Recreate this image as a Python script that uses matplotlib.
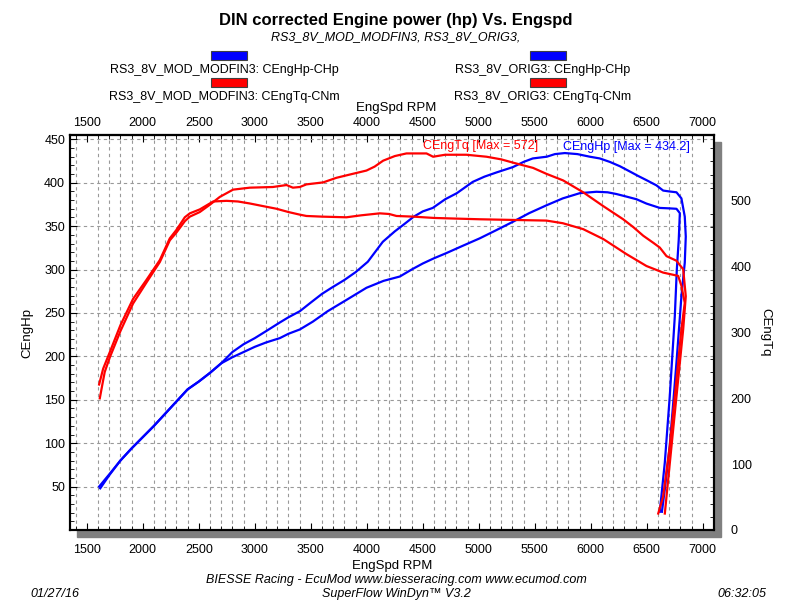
import numpy as np
import matplotlib
matplotlib.use("Agg")
import matplotlib.pyplot as plt
from matplotlib.patches import Rectangle
from matplotlib.ticker import MultipleLocator, NullLocator

plt.rcParams['font.family'] = ['Liberation Sans', 'DejaVu Sans']

# ----- data -----
# shared low-rpm part of both power runs
hp_low_rpm = [1620, 1700, 1800, 1900, 2000, 2100, 2200, 2300, 2400, 2500, 2600, 2700]
hp_low_val = [48, 63, 80, 94, 107, 120, 134, 148, 162, 171, 181, 192]

# RS3_8V_MOD_MODFIN3 power (hp)
mod_hp_rpm = hp_low_rpm + [2800, 2900, 3000, 3100, 3223, 3300, 3402, 3500, 3600, 3685, 3800,
                           3900, 4009, 4143, 4250, 4321, 4420, 4500, 4589, 4700, 4804, 4946,
                           5050, 5161, 5304, 5400, 5482, 5607, 5680, 5768, 5880, 5991, 6080,
                           6170, 6260, 6348, 6420, 6497, 6586, 6646, 6700, 6765, 6809, 6839,
                           6848, 6839, 6809, 6765, 6705, 6661, 6635]
mod_hp_val = hp_low_val + [205, 214, 221, 229, 239, 245, 252, 262, 272, 279, 288,
                           297, 309, 332, 344, 351, 361, 367, 371, 381, 388, 401,
                           407, 412, 418, 424, 428, 430, 433, 434.2, 433, 430, 428,
                           424, 419, 413, 408, 403, 397, 391, 390, 389, 382, 361,
                           338, 308, 269, 193, 97, 47, 21]

# RS3_8V_ORIG3 power (hp)
orig_hp_rpm = [1610, 1700] + hp_low_rpm[2:] + [2800, 2900, 3000, 3100, 3223, 3300, 3402, 3518, 3650,
                                              3818, 3997, 4150, 4295, 4400, 4500, 4600, 4711, 4850,
                                              5009, 5150, 5304, 5450, 5604, 5750, 5902, 6050, 6150,
                                              6229, 6320, 6408, 6497, 6616, 6700, 6765, 6795, 6785,
                                              6768, 6750, 6705, 6661, 6616]
orig_hp_val = [50, 64] + hp_low_val[2:] + [199, 205, 211, 216, 221, 226, 231, 240, 252,
                                          265, 279, 287, 292, 300, 307, 313, 319, 327,
                                          336, 345, 355, 365, 374, 382, 388, 389.6, 389,
                                          387, 384, 381, 376, 371, 370.5, 370, 365, 334,
                                          300, 246, 154, 78, 21]

# RS3_8V_MOD_MODFIN3 torque (Nm)
mod_tq_rpm = [1616, 1640, 1660, 1705, 1800, 1913, 2033, 2152, 2241, 2301, 2375, 2420, 2509,
              2598, 2688, 2806, 2955, 3161, 3283, 3340, 3402, 3461, 3610, 3729, 3850, 3997,
              4070, 4146, 4250, 4354, 4533, 4592, 4700, 4890, 5069, 5200, 5306, 5485, 5604,
              5753, 5932, 6111, 6289, 6380, 6468, 6560, 6616, 6676, 6765, 6825, 6848, 6825,
              6795, 6735, 6676, 6661]
mod_tq_val = [200, 222, 240, 262, 302, 344, 376, 407, 440, 452, 469, 476, 483,
              494, 506, 517, 520, 521, 524, 520, 521, 525, 528, 535, 540, 546,
              552, 561, 568, 572, 572, 567, 570, 570, 567, 563, 558, 550, 541,
              531, 513, 492, 472, 460, 447, 436, 429, 416, 409, 396, 355, 305,
              254, 152, 51, 25]

# RS3_8V_ORIG3 torque (Nm)
orig_tq_rpm = [1610, 1646, 1705, 1800, 1913, 2033, 2152, 2241, 2301, 2375, 2420, 2509, 2628,
               2747, 2850, 2955, 3073, 3193, 3300, 3402, 3461, 3600, 3818, 3950, 4116, 4200,
               4265, 4414, 4600, 4800, 5009, 5300, 5604, 5750, 5932, 6111, 6319, 6497, 6646,
               6780, 6809, 6839, 6809, 6765, 6705, 6646, 6602]
orig_tq_val = [221, 245, 270, 311, 351, 380, 410, 443, 456, 475, 481, 487, 499,
               500, 499, 496, 492, 488, 483, 479, 477, 476, 475, 478, 481, 480,
               477, 476, 474, 473, 472, 471, 470, 466, 457, 442, 419, 401, 391,
               386, 371, 345, 305, 228, 127, 51, 25]

xticks = list(range(1500, 7001, 500))
hp_ticks = list(range(50, 451, 50))
tq_ticks = list(range(0, 501, 100))

BLUE = "#0000ff"
RED = "#ff0000"

fig = plt.figure(figsize=(7.92, 6.12), dpi=100)
W, H = 792.0, 612.0
ax_l, ax_r, ax_t, ax_b = 70, 714, 135, 530
ax = fig.add_axes([ax_l / W, 1 - ax_b / H, (ax_r - ax_l) / W, (ax_b - ax_t) / H])

# drop shadow behind the plot frame
fig.patches.append(Rectangle(((ax_l + 7) / W, 1 - (ax_b + 7) / H), (ax_r - ax_l) / W, (ax_b - ax_t) / H,
                             transform=fig.transFigure, color="#808080", zorder=-1))

ax.set_xlim(1350, 7100)
ax.set_ylim(0, 455)
ax.set_xticks(xticks)
ax.set_yticks(hp_ticks)
ax.xaxis.set_minor_locator(MultipleLocator(100))
ax.yaxis.set_minor_locator(MultipleLocator(10))
ax.grid(True, which="major", axis="y", color="#999999", ls=(0, (3, 3)), lw=0.8)
ax.grid(True, which="minor", axis="x", color="#999999", ls=(0, (3, 3)), lw=0.8)
ax.tick_params(axis="x", which="both", top=True, labeltop=False, direction="in", labelsize=9)
ax.tick_params(axis="x", which="major", length=5, pad=10)
ax.tick_params(axis="x", which="minor", length=3)
ax.tick_params(axis="y", which="both", direction="in", labelsize=9)
ax.tick_params(axis="y", which="major", length=5)
ax.tick_params(axis="y", which="minor", length=3)
for s in ax.spines.values():
    s.set_linewidth(1.5)

# top rpm labels
secax = ax.secondary_xaxis("top")
secax.set_xticks(xticks)
secax.xaxis.set_minor_locator(NullLocator())
secax.tick_params(axis="x", length=0, pad=4, labelsize=9)
secax.spines["top"].set_linewidth(1.5)

ax.plot(orig_hp_rpm, orig_hp_val, color=BLUE, lw=1.6)
ax.plot(mod_hp_rpm, mod_hp_val, color=BLUE, lw=1.6)
ax.set_ylabel("CEngHp", fontsize=9.5, labelpad=8)
ax.set_xlabel("EngSpd RPM", fontsize=9.5, labelpad=3)

ax2 = ax.twinx()
ax2.set_ylim(0, 600)
ax2.set_yticks(tq_ticks)
ax2.yaxis.set_minor_locator(MultipleLocator(20))
ax2.tick_params(axis="y", which="major", direction="out", length=4, color="#808080", labelsize=9, pad=8)
ax2.tick_params(axis="y", which="minor", direction="in", length=3)
for s in ax2.spines.values():
    s.set_linewidth(1.5)
ax2.plot(orig_tq_rpm, orig_tq_val, color=RED, lw=1.6)
ax2.plot(mod_tq_rpm, mod_tq_val, color=RED, lw=1.6)
ax2.set_ylabel("CEngTq", fontsize=9.5, rotation=-90, labelpad=14)

ax2.text(4500, 583, "CEngTq [Max = %d]" % max(mod_tq_val), color=RED, fontsize=9, ha="left", va="center")
ax.text(5750, 441, "CEngHp [Max = %.1f]" % max(mod_hp_val), color=BLUE, fontsize=9, ha="left", va="center")

# titles / legend / footer
fig.text(396 / W, 1 - 20 / H, "DIN corrected Engine power (hp) Vs. Engspd", ha="center", va="center",
         fontsize=12, fontweight="bold")
fig.text(396 / W, 1 - 37 / H, "RS3_8V_MOD_MODFIN3, RS3_8V_ORIG3,", ha="center", va="center",
         fontsize=9, style="italic")

legend_items = [
    (229, 56, 224, 70, BLUE, "RS3_8V_MOD_MODFIN3: CEngHp-CHp"),
    (548, 56, 543, 70, BLUE, "RS3_8V_ORIG3: CEngHp-CHp"),
    (229, 83, 224, 97, RED, "RS3_8V_MOD_MODFIN3: CEngTq-CNm"),
    (548, 83, 543, 97, RED, "RS3_8V_ORIG3: CEngTq-CNm"),
]
for sx, sy, tx, ty, col, lab in legend_items:
    fig.patches.append(Rectangle(((sx - 18) / W, 1 - (sy + 4) / H), 36 / W, 9 / H,
                                 transform=fig.transFigure, facecolor=col, edgecolor="#404040", lw=0.8))
    fig.text(tx / W, 1 - ty / H, lab, ha="center", va="center", fontsize=9)

fig.text(396 / W, 1 - 108 / H, "EngSpd RPM", ha="center", va="center", fontsize=9.5)
fig.text(396 / W, 1 - 580 / H, "BIESSE Racing - EcuMod www.biesseracing.com www.ecumod.com",
         ha="center", va="center", fontsize=9, style="italic")
fig.text(396 / W, 1 - 594 / H, "SuperFlow WinDyn\u2122 V3.2", ha="center", va="center",
         fontsize=9, style="italic")
fig.text(30 / W, 1 - 594 / H, "01/27/16", ha="left", va="center", fontsize=9, style="italic")
fig.text(766 / W, 1 - 594 / H, "06:32:05", ha="right", va="center", fontsize=9, style="italic")

fig.savefig("out.png", dpi=100)
